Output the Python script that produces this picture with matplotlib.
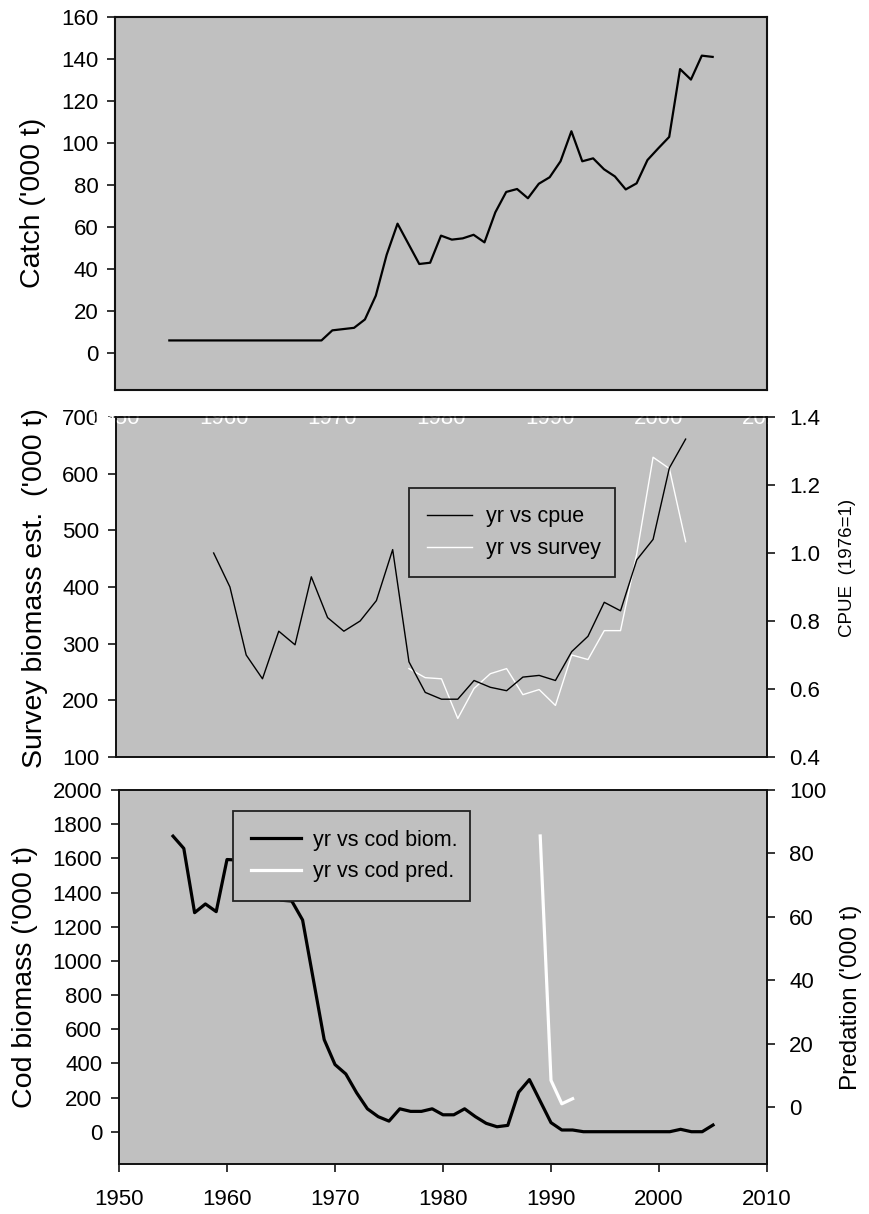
import matplotlib
matplotlib.use("Agg")
import matplotlib.pyplot as plt
from matplotlib.ticker import FormatStrFormatter

plt.rcParams['font.family'] = ['Liberation Sans', 'DejaVu Sans']

# ---------------- data ----------------
catch_years = list(range(1955, 2006))
catch = [6, 6, 6, 6, 6, 6, 6, 6, 6, 6, 6, 6, 6, 6, 6,
         10.8, 11.4, 12, 16, 27.3, 46.8, 61.6, 52, 42.4, 43,
         55.9, 54, 54.6, 56.3, 52.7, 67, 76.7, 78.1, 73.7, 80.6,
         83.7, 91.3, 105.6, 91.3, 92.7, 87.5, 84.1, 77.9, 80.8, 91.9,
         97.5, 102.9, 135.2, 130.2, 141.6, 141.0]

cpue_years = list(range(1976, 2006))
cpue = [1.00, 0.90, 0.70, 0.63, 0.77, 0.73, 0.93, 0.81, 0.77, 0.80,
        0.86, 1.01, 0.68, 0.59, 0.57, 0.57, 0.625, 0.605, 0.595, 0.635,
        0.64, 0.625, 0.71, 0.755, 0.855, 0.83, 0.98, 1.04, 1.25, 1.335]

survey_years = list(range(1988, 2006))
survey = [256, 240, 238, 168, 221, 247, 256, 210, 219, 191,
          280, 272, 323, 323, 459, 629, 609, 480]

cod_years = list(range(1955, 2006))
cod_biom = [1730, 1658, 1282, 1333, 1288, 1593, 1590, 1620, 1560, 1480,
            1355, 1350, 1239, 889, 539, 393, 338, 228, 134, 88,
            62, 134, 119, 119, 134, 99, 99, 134, 88, 49,
            29, 37, 231, 305, 179, 53, 10, 10, 0, 0,
            0, 0, 0, 0, 0, 0, 0, 14, 0, 0, 39]

pred_years = [1989, 1990, 1991, 1992]
pred = [85.5, 8.4, 1.0, 2.6]

year_ticks = list(range(1950, 2011, 10))

# ---------------- layout ----------------
W, H = 869, 1214
fig = plt.figure(figsize=(W / 100, H / 100), dpi=100)
fig.patch.set_facecolor('white')

def rect(l, t, r, b):
    return [l / W, 1 - b / H, (r - l) / W, (b - t) / H]

GRAY = '#c0c0c0'
TFS = 16
LFS = 20.5
LEGFS = 15.5

def style(ax, lw=1.2):
    ax.set_facecolor(GRAY)
    for s in ax.spines.values():
        s.set_linewidth(lw)
        s.set_color('#111111')

# ---------- top panel ----------
ax1 = fig.add_axes(rect(115, 17, 767, 390))
style(ax1, 1.5)
ax1.plot(catch_years, catch, color='black', lw=1.6)
ax1.set_xlim(1950, 2010)
ax1.set_ylim(-17.6, 160)
ax1.set_yticks(range(0, 161, 20))
ax1.set_xticks(year_ticks)
ax1.tick_params(axis='y', direction='out', length=6, width=1.1, pad=6, labelsize=TFS)
ax1.tick_params(axis='x', length=0, pad=13, labelsize=TFS, labelcolor='white')
ax1.set_zorder(1)

# ---------- middle panel ----------
ax2 = fig.add_axes(rect(116, 417, 767, 757))
style(ax2, 1.2)
ax2.set_zorder(0)
ls, = ax2.plot(survey_years, survey, color='white', lw=1.0, label='yr vs survey')
ax2.set_xlim(1970, 2010)
ax2.set_ylim(100, 700)
ax2.set_yticks(range(100, 701, 100))
ax2.set_xticks([])
ax2.tick_params(axis='y', direction='out', length=6, width=1.1, pad=6, labelsize=TFS)

ax2b = ax2.twinx()
ax2b.set_zorder(2)
ax2b.patch.set_visible(False)
for s in ax2b.spines.values():
    s.set_linewidth(1.2)
    s.set_color('#111111')
lc, = ax2b.plot(cpue_years, cpue, color='black', lw=1.0, label='yr vs cpue')
ax2b.set_xlim(1970, 2010)
ax2b.set_ylim(0.4, 1.4)
ax2b.set_yticks([0.4, 0.6, 0.8, 1.0, 1.2, 1.4])
ax2b.yaxis.set_major_formatter(FormatStrFormatter('%.1f'))
ax2b.tick_params(axis='y', direction='out', length=6, width=1.1, pad=10, labelsize=TFS)
leg2 = ax2b.legend(handles=[lc, ls], loc='upper left',
                   bbox_to_anchor=(0.45, 0.524, 0.316, 0.267), mode='expand',
                   borderaxespad=0, borderpad=0.85, handlelength=2.1, handletextpad=0.65,
                   labelspacing=0.5, fontsize=LEGFS, fancybox=False, framealpha=1)
leg2.get_frame().set_facecolor(GRAY)
leg2.get_frame().set_edgecolor('#222222')
leg2.get_frame().set_linewidth(1.3)

# ---------- bottom panel ----------
ax3 = fig.add_axes(rect(119, 790, 767, 1164))
style(ax3, 1.2)
lb, = ax3.plot(cod_years, cod_biom, color='black', lw=2.3, label='yr vs cod biom.')
ax3.set_xlim(1950, 2010)
ax3.set_ylim(-189, 2000)
ax3.set_yticks(range(0, 2001, 200))
ax3.set_xticks(year_ticks)
ax3.tick_params(axis='y', direction='out', length=6, width=1.1, pad=6, labelsize=TFS)
ax3.tick_params(axis='x', direction='out', length=6, width=1.1, pad=12, labelsize=TFS)

ax3b = ax3.twinx()
ax3b.patch.set_visible(False)
for s in ax3b.spines.values():
    s.set_linewidth(1.2)
    s.set_color('#111111')
lp, = ax3b.plot(pred_years, pred, color='white', lw=2.3, label='yr vs cod pred.')
ax3b.set_ylim(-18, 100)
ax3b.set_yticks(range(0, 101, 20))
ax3b.tick_params(axis='y', direction='out', length=6, width=1.1, pad=10, labelsize=TFS)
leg3 = ax3b.legend(handles=[lb, lp], loc='upper left',
                   bbox_to_anchor=(0.176, 0.700, 0.365, 0.243), mode='expand',
                   borderaxespad=0, borderpad=0.85, handlelength=2.3, handletextpad=0.55,
                   labelspacing=0.5, fontsize=LEGFS, fancybox=False, framealpha=1)
leg3.get_frame().set_facecolor(GRAY)
leg3.get_frame().set_edgecolor('#222222')
leg3.get_frame().set_linewidth(1.3)

# ---------- axis titles ----------
fig.text(33 / W, 1 - 203 / H, "Catch ('000 t)", rotation=90, ha='center', va='center', fontsize=LFS)
fig.text(35 / W, 1 - 588 / H, "Survey biomass est.  ('000 t)", rotation=90, ha='center', va='center', fontsize=LFS)
fig.text(25 / W, 1 - 977 / H, "Cod biomass ('000 t)", rotation=90, ha='center', va='center', fontsize=LFS)
fig.text(848 / W, 1 - 568 / H, "CPUE  (1976=1)", rotation=90, ha='center', va='center', fontsize=13.5)
fig.text(851 / W, 1 - 997 / H, "Predation ('000 t)", rotation=90, ha='center', va='center', fontsize=17.5)

fig.savefig('out.png', dpi=100)
